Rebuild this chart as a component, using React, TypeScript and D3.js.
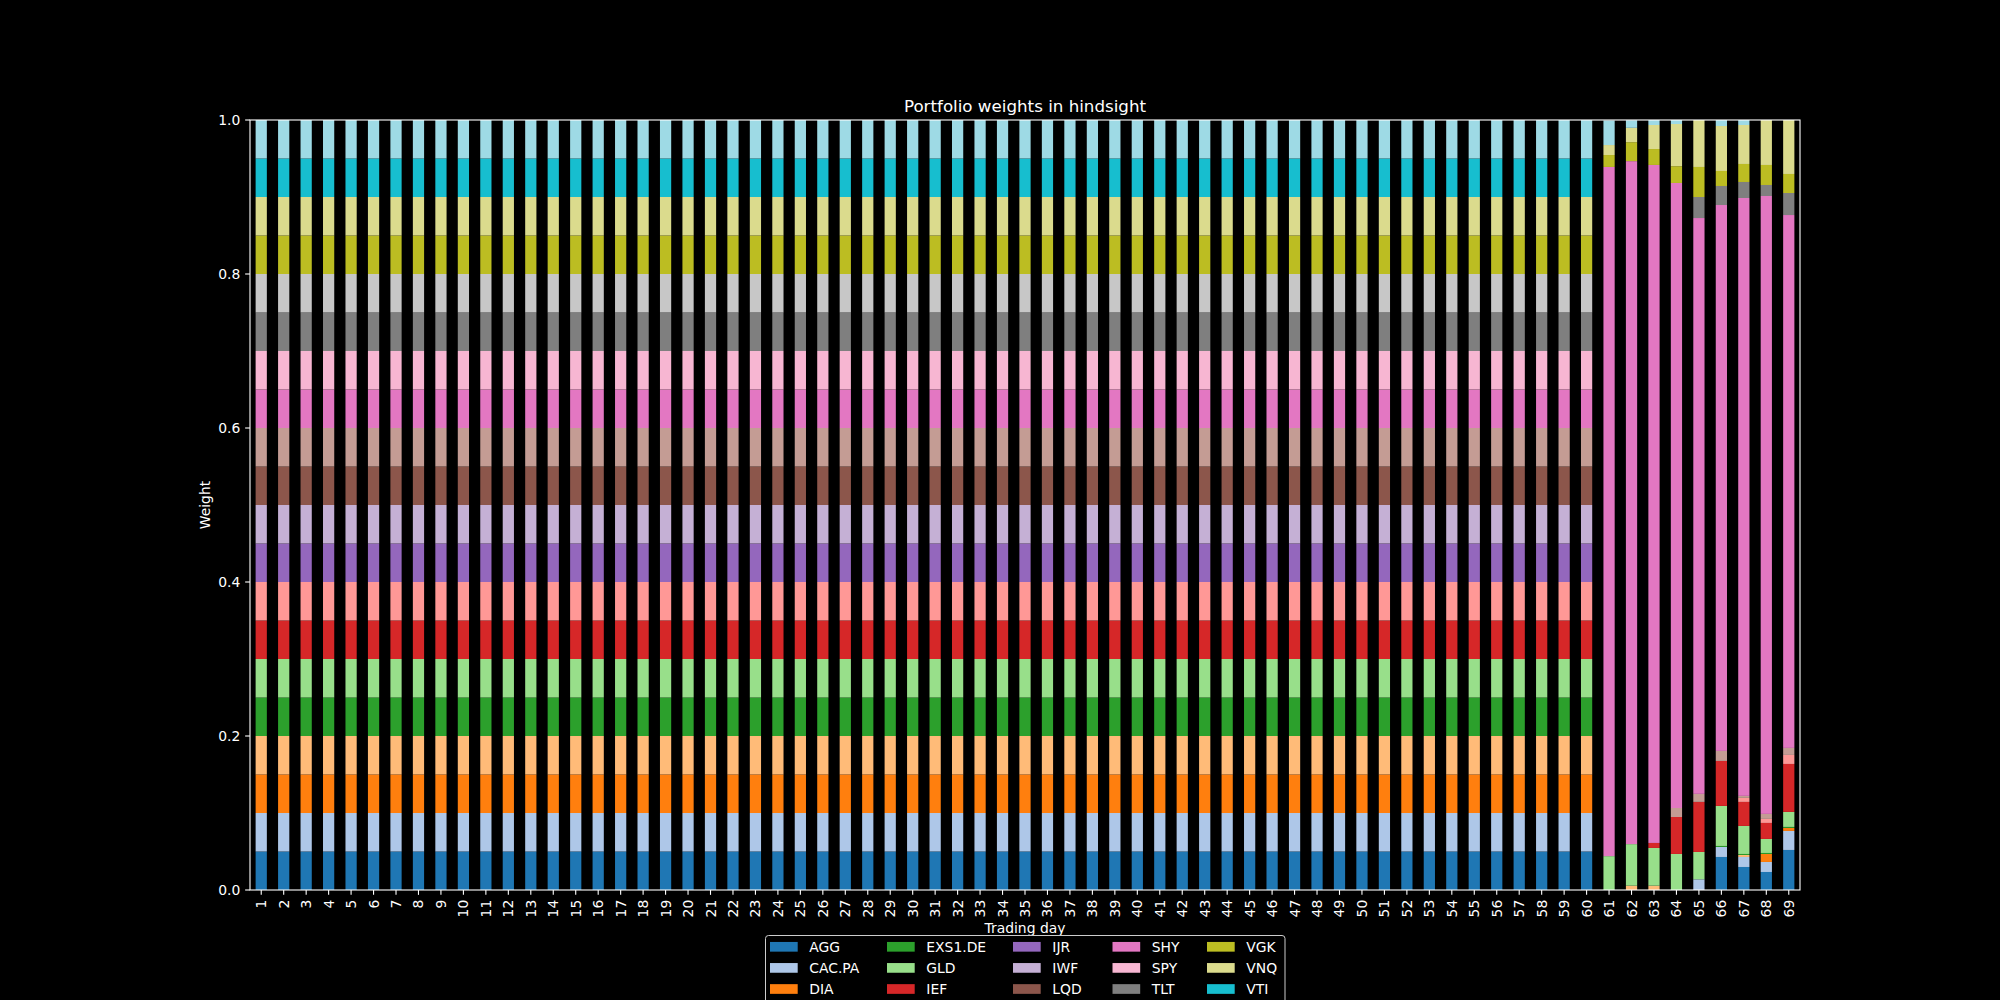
import React from 'react';
import * as d3 from 'd3';

// Hindsight-optimal portfolio weights per trading day (days 1-60 equal weight)
const DAYS = [
  1, 2, 3, 4, 5, 6, 7, 8, 9, 10, 11, 12, 13, 14, 15, 16, 17, 18, 19, 20,
  21, 22, 23, 24, 25, 26, 27, 28, 29, 30, 31, 32, 33, 34, 35, 36, 37, 38, 39, 40,
  41, 42, 43, 44, 45, 46, 47, 48, 49, 50, 51, 52, 53, 54, 55, 56, 57, 58, 59, 60,
  61, 62, 63, 64, 65, 66, 67, 68, 69,
];

const TICKERS = [
  'AGG', 'CAC.PA', 'DIA', 'EEM', 'EXS1.DE', 'GLD', 'IEF', 'IJH', 'IJR', 'IWF',
  'LQD', 'QQQ', 'SHY', 'SPY', 'TLT', 'VEA', 'VGK', 'VNQ', 'VTI', 'VWO',
];

// weight of every ticker over days 1-60
const EQUAL_60 = [
  0.05, 0.05, 0.05, 0.05, 0.05, 0.05, 0.05, 0.05, 0.05, 0.05,
  0.05, 0.05, 0.05, 0.05, 0.05, 0.05, 0.05, 0.05, 0.05, 0.05,
  0.05, 0.05, 0.05, 0.05, 0.05, 0.05, 0.05, 0.05, 0.05, 0.05,
  0.05, 0.05, 0.05, 0.05, 0.05, 0.05, 0.05, 0.05, 0.05, 0.05,
  0.05, 0.05, 0.05, 0.05, 0.05, 0.05, 0.05, 0.05, 0.05, 0.05,
  0.05, 0.05, 0.05, 0.05, 0.05, 0.05, 0.05, 0.05, 0.05, 0.05,
];

// days 61-69
const AGG = [...EQUAL_60, 0, 0, 0, 0, 0, 0.0429, 0.0299, 0.0234, 0.052];
const CAC_PA = [...EQUAL_60, 0, 0, 0, 0, 0.0139, 0.013, 0.013, 0.013, 0.0247];
const DIA = [...EQUAL_60, 0, 0, 0, 0, 0, 0, 0, 0.0104, 0.0039];
const EEM = [...EQUAL_60, 0, 0.0056, 0.0056, 0, 0, 0, 0.0026, 0, 0];
const EXS1_DE = [...EQUAL_60, 0, 0, 0, 0, 0, 0.0013, 0.0013, 0.0013, 0.0013];
const GLD = [...EQUAL_60, 0.044, 0.054, 0.049, 0.0468, 0.0355, 0.052, 0.0364, 0.0182, 0.0195];
const IEF = [...EQUAL_60, 0, 0, 0.0065, 0.048, 0.065, 0.0584, 0.0312, 0.0208, 0.0623];
const IJH = [...EQUAL_60, 0, 0, 0, 0, 0, 0, 0.0052, 0.0052, 0.0117];
const IJR = [...EQUAL_60, 0, 0, 0, 0, 0, 0, 0, 0, 0];
const IWF = [...EQUAL_60, 0, 0, 0, 0, 0, 0, 0, 0, 0];
const LQD = [...EQUAL_60, 0, 0, 0, 0, 0, 0, 0, 0, 0];
const QQQ = [...EQUAL_60, 0, 0, 0, 0.0117, 0.0104, 0.013, 0.0026, 0.0065, 0.0091];
const SHY = [...EQUAL_60, 0.895, 0.887, 0.8805, 0.8117, 0.7479, 0.709, 0.7765, 0.8025, 0.6921];
const SPY = [...EQUAL_60, 0, 0, 0, 0, 0, 0, 0, 0, 0];
const TLT = [...EQUAL_60, 0, 0, 0, 0, 0.0273, 0.0247, 0.0208, 0.0143, 0.0286];
const VEA = [...EQUAL_60, 0, 0, 0, 0, 0, 0, 0, 0, 0];
const VGK = [...EQUAL_60, 0.0155, 0.0246, 0.0207, 0.0218, 0.039, 0.0195, 0.0234, 0.026, 0.0247];
const VNQ = [...EQUAL_60, 0.013, 0.0186, 0.0312, 0.0548, 0.061, 0.0584, 0.0506, 0.0584, 0.0701];
const VTI = [...EQUAL_60, 0, 0, 0, 0, 0, 0, 0, 0, 0];
const VWO = [...EQUAL_60, 0.032, 0.01, 0.0065, 0.0052, 0, 0.0078, 0.0065, 0, 0];

const SERIES = [
  AGG, CAC_PA, DIA, EEM, EXS1_DE, GLD, IEF, IJH, IJR, IWF,
  LQD, QQQ, SHY, SPY, TLT, VEA, VGK, VNQ, VTI, VWO,
];

const Y_TICKS = [0, 0.2, 0.4, 0.6, 0.8, 1.0];

// matplotlib tab20
const TAB20 = [
  '#1f77b4', '#aec7e8', '#ff7f0e', '#ffbb78', '#2ca02c', '#98df8a', '#d62728', '#ff9896',
  '#9467bd', '#c5b0d5', '#8c564b', '#c49c94', '#e377c2', '#f7b6d2', '#7f7f7f', '#c7c7c7',
  '#bcbd22', '#dbdb8d', '#17becf', '#9edae5',
];

const W = 2000;
const H = 1000;
const FONT = 'DejaVu Sans, sans-serif';

export default function App() {
  const margin = { top: 120, right: 200, bottom: 110, left: 250 };
  const x0 = margin.left;
  const x1 = W - margin.right;
  const y0 = H - margin.bottom;
  const y1 = margin.top;

  const x = d3.scaleBand<number>().domain(DAYS).range([x0, x1]).paddingInner(0.5).paddingOuter(0.25);
  const y = d3.scaleLinear().domain([0, 1]).range([y0, y1]);
  const color = d3.scaleOrdinal<string, string>().domain(TICKERS).range(TAB20);

  const rows = DAYS.map((d, i) => {
    const r: Record<string, number> = { day: d };
    TICKERS.forEach((t, j) => { r[t] = SERIES[j][i]; });
    return r;
  });
  const stacked = d3.stack<Record<string, number>>().keys(TICKERS)(rows);

  const tick = 4.86;
  const pad = 4.86;
  const cx = (x0 + x1) / 2;

  // legend layout (ncol=5, column-major like matplotlib)
  const legCols = [770, 887, 1013, 1112.5, 1207];
  const legRow0 = 946.8;
  const legRowStep = 21.1;

  return (
    <div style={{ position: 'fixed', left: 0, top: 0, width: W, height: H, background: '#000' }}>
      <svg width={W} height={H} style={{ display: 'block' }} fontFamily={FONT}>
        <rect x={0} y={0} width={W} height={H} fill="#000" />

        {stacked.map((layer) => (
          <g key={layer.key} fill={color(layer.key)}>
            {layer.map((seg, i) => {
              const h = y(seg[0]) - y(seg[1]);
              if (h <= 0) return null;
              return (
                <rect
                  key={i}
                  x={x(DAYS[i])}
                  y={y(seg[1])}
                  width={x.bandwidth()}
                  height={h}
                />
              );
            })}
          </g>
        ))}

        {/* spines */}
        <rect x={x0} y={y1} width={x1 - x0} height={y0 - y1} fill="none" stroke="#fff" strokeWidth={1.1} />

        {/* y axis */}
        {Y_TICKS.map((t) => (
          <g key={t}>
            <line x1={x0 - tick} x2={x0} y1={y(t)} y2={y(t)} stroke="#fff" strokeWidth={1.1} />
            <text x={x0 - tick - pad} y={y(t)} textAnchor="end" dominantBaseline="central" fill="#fff" fontSize={13.9}>
              {t.toFixed(1)}
            </text>
          </g>
        ))}

        {/* x axis */}
        {DAYS.map((d) => {
          const xc = (x(d) as number) + x.bandwidth() / 2;
          return (
            <g key={d}>
              <line x1={xc} x2={xc} y1={y0} y2={y0 + tick} stroke="#fff" strokeWidth={1.1} />
              <text
                transform={`translate(${xc},${y0 + tick + pad}) rotate(-90)`}
                textAnchor="end"
                dominantBaseline="central"
                fill="#fff"
                fontSize={13.9}
              >
                {d}
              </text>
            </g>
          );
        })}

        <text x={cx} y={112} textAnchor="middle" fill="#fff" fontSize={16.7}>
          Portfolio weights in hindsight
        </text>
        <text x={cx} y={933} textAnchor="middle" fill="#fff" fontSize={13.9}>
          Trading day
        </text>
        <text transform={`translate(210,${(y0 + y1) / 2}) rotate(-90)`} textAnchor="middle" fill="#fff" fontSize={13.9}>
          Weight
        </text>

        {/* legend */}
        <rect x={765.5} y={935.5} width={519.5} height={96} rx={3} fill="#000" fillOpacity={0.8} stroke="#cccccc" strokeWidth={1} />
        {TICKERS.map((t, i) => {
          const col = Math.floor(i / 4);
          const row = i % 4;
          const lx = legCols[col];
          const ly = legRow0 + row * legRowStep;
          return (
            <g key={t}>
              <rect x={lx} y={ly - 4.85} width={27.7} height={9.7} fill={color(t)} />
              <text x={lx + 39.3} y={ly} dominantBaseline="central" fill="#fff" fontSize={13.9}>
                {t}
              </text>
            </g>
          );
        })}
      </svg>
    </div>
  );
}
